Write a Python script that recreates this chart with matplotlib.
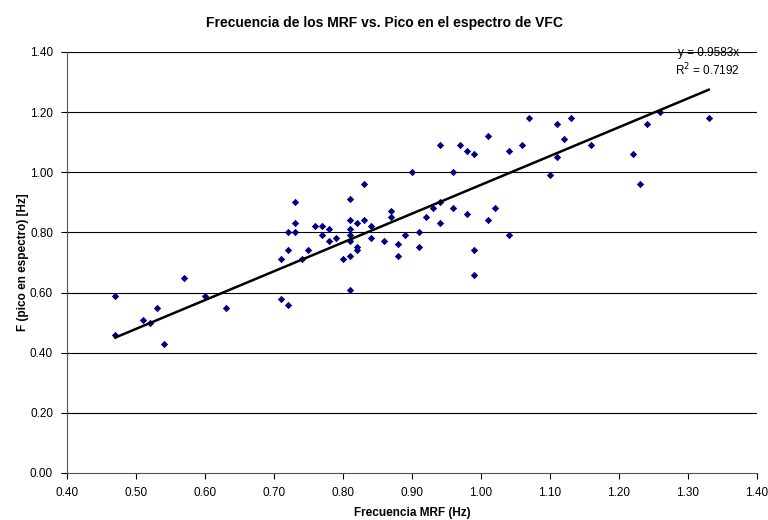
import matplotlib.pyplot as plt
import numpy as np

plt.rcParams['font.family'] = ['Liberation Sans', 'DejaVu Sans']

# Frecuencia MRF (Hz) vs pico en espectro (Hz)
mrf = [0.47, 0.47, 0.51, 0.52, 0.53, 0.54, 0.57, 0.60, 0.63,
       0.71, 0.71, 0.72, 0.72, 0.72, 0.73, 0.73, 0.73, 0.74, 0.75,
       0.76, 0.77, 0.77, 0.78, 0.78, 0.79, 0.80,
       0.81, 0.81, 0.81, 0.81, 0.81, 0.81, 0.81, 0.82, 0.82, 0.82,
       0.83, 0.83, 0.84, 0.84, 0.86, 0.87, 0.87, 0.88, 0.88, 0.89,
       0.90, 0.91, 0.91, 0.92, 0.93, 0.94, 0.94, 0.94, 0.96, 0.96,
       0.97, 0.98, 0.98, 0.99, 0.99, 0.99, 1.01, 1.01, 1.02, 1.04,
       1.04, 1.06, 1.07, 1.10, 1.11, 1.11, 1.12, 1.13, 1.16, 1.22,
       1.23, 1.24, 1.26, 1.33]
pico = [0.59, 0.46, 0.51, 0.50, 0.55, 0.43, 0.65, 0.59, 0.55,
        0.71, 0.58, 0.56, 0.80, 0.74, 0.90, 0.83, 0.80, 0.71, 0.74,
        0.82, 0.82, 0.79, 0.81, 0.77, 0.78, 0.71,
        0.91, 0.84, 0.81, 0.79, 0.77, 0.72, 0.61, 0.83, 0.75, 0.74,
        0.96, 0.84, 0.82, 0.78, 0.77, 0.87, 0.85, 0.76, 0.72, 0.79,
        1.00, 0.80, 0.75, 0.85, 0.88, 0.90, 0.83, 1.09, 1.00, 0.88,
        1.09, 1.07, 0.86, 1.06, 0.74, 0.66, 1.12, 0.84, 0.88, 1.07,
        0.79, 1.09, 1.18, 0.99, 1.16, 1.05, 1.11, 1.18, 1.09, 1.06,
        0.96, 1.16, 1.20, 1.18]

slope = 0.9583
r2 = 0.7192

fig = plt.figure(figsize=(7.68, 5.2), dpi=100)
ax = fig.add_axes([0.0872, 0.0904, 0.8985, 0.8096])

for yv in np.arange(0.2, 1.41, 0.2):
    ax.axhline(yv, color='black', linewidth=0.8, zorder=1)

ax.scatter(mrf, pico, marker='D', s=14, color='#000080', zorder=3, linewidths=0)

xl = np.array([min(mrf), max(mrf)])
ax.plot(xl, slope * xl, color='black', linewidth=1.8, zorder=4)

ax.set_xlim(0.4, 1.4)
ax.set_ylim(0.0, 1.4)
ax.set_xticks(np.arange(0.4, 1.41, 0.1))
ax.set_yticks(np.arange(0.0, 1.41, 0.2))
ax.xaxis.set_major_formatter(plt.FormatStrFormatter('%.2f'))
ax.yaxis.set_major_formatter(plt.FormatStrFormatter('%.2f'))
ax.tick_params(axis='both', direction='out', length=4, width=0.8, labelsize=8.5, pad=6)

for s in ['top', 'right']:
    ax.spines[s].set_visible(False)
for s in ['left', 'bottom']:
    ax.spines[s].set_color('#555555')

ax.set_xlabel('Frecuencia MRF (Hz)', fontsize=8.5, fontweight='bold', labelpad=6)
ax.set_ylabel('F (pico en espectro) [Hz]', fontsize=8.5, fontweight='bold', labelpad=1)
fig.text(0.5, 0.956, 'Frecuencia de los MRF vs. Pico en el espectro de VFC',
         ha='center', va='center', fontsize=10, fontweight='bold')

fig.text(0.963, 0.898, 'y = 0.9583x', ha='right', va='center', fontsize=8.5)
fig.text(0.963, 0.866, 'R$^2$ = %.4f' % r2, ha='right', va='center', fontsize=8.5)

fig.savefig('out.png', dpi=100)
